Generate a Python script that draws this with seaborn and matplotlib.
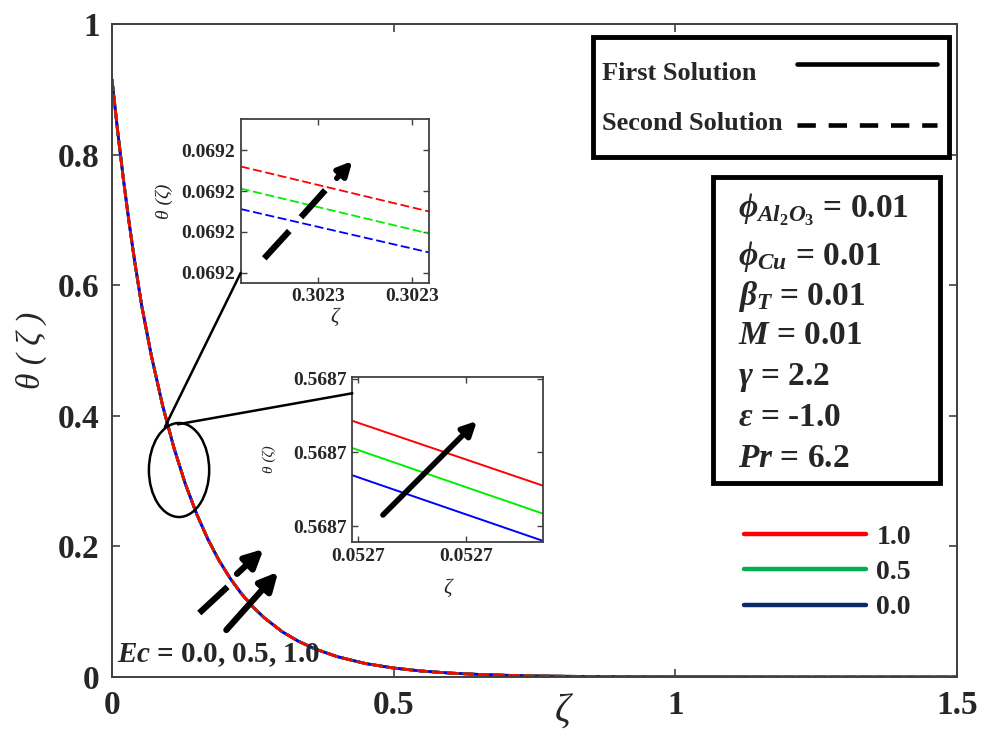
import numpy as np
import pandas as pd
import seaborn as sns
import matplotlib
matplotlib.use("Agg")
import matplotlib.pyplot as plt
from matplotlib.lines import Line2D
from matplotlib.patches import Ellipse, Rectangle, ConnectionPatch

# ---------------- data ----------------
zeta = [0.0, 0.01, 0.02, 0.03, 0.04, 0.0527, 0.07, 0.09, 0.11, 0.13, 0.15,
        0.17, 0.19, 0.21, 0.23, 0.25, 0.27, 0.3023, 0.33, 0.36, 0.40, 0.45,
        0.50, 0.55, 0.60, 0.65, 0.70, 0.75, 0.80, 0.90, 1.00, 1.20, 1.50]
theta = [0.9150, 0.8361, 0.7639, 0.6981, 0.6378, 0.5687, 0.4914, 0.4151,
         0.3507, 0.2962, 0.2502, 0.2113, 0.1785, 0.1508, 0.1273, 0.1076,
         0.0909, 0.0692, 0.0552, 0.0431, 0.0311, 0.0206, 0.0137, 0.0091,
         0.0060, 0.0040, 0.0026, 0.0017, 0.0011, 0.0005, 0.0002, 0.0000,
         0.0000]

ec_values = ["1.0", "0.5", "0.0"]
line_colors = ["#ff0000", "#00ee00", "#0000ff"]
legend_colors = ["#ff0000", "#00b050", "#0b2a6b"]

# zoom near zeta = 0.3023 (second solution)
z1_x = [0.3022959, 0.3023059]
z1_theta = {"1.0": [0.0692080, 0.0692025],
            "0.5": [0.0692053, 0.0691998],
            "0.0": [0.0692028, 0.0691975]}
z1_xticks = [0.302300, 0.302305]
z1_yticks = [0.069195, 0.069200, 0.069205, 0.069210]

# zoom near zeta = 0.0527 (first solution)
z2_x = [0.05269995, 0.05270171]
z2_theta = {"1.0": [0.5686743, 0.5686655],
            "0.5": [0.5686706, 0.5686617],
            "0.0": [0.5686669, 0.5686580]}
z2_xticks = [0.052700, 0.052701]
z2_yticks = [0.568660, 0.568670, 0.568680]

solution_labels = ["First Solution", "Second Solution"]
params = [r"$\phi_{Al_2O_3}$ = 0.01", r"$\phi_{Cu}$ = 0.01", r"$\beta_T$ = 0.01",
          r"$M$ = 0.01", r"$\gamma$ = 2.2", r"$\epsilon$ = -1.0", r"$Pr$ = 6.2"]

# ---------------- style ----------------
sns.set_theme(style="ticks")
plt.rcParams["font.family"] = ["Liberation Serif", "DejaVu Serif"]
plt.rcParams["font.weight"] = "bold"
plt.rcParams["mathtext.fontset"] = "custom"
plt.rcParams["mathtext.it"] = "Liberation Serif:italic:bold"
plt.rcParams["mathtext.rm"] = "Liberation Serif:bold"
plt.rcParams["mathtext.bf"] = "Liberation Serif:bold"
plt.rcParams["mathtext.fallback"] = "stix"

spine_col = "#404040"

fig = plt.figure(figsize=(9.82, 7.36), dpi=100)
W, H = 982.0, 736.0

def px_axes(l, t, r, b):
    return [l / W, 1 - b / H, (r - l) / W, (b - t) / H]

ax = fig.add_axes(px_axes(112, 24, 957, 677))

df = pd.DataFrame({"zeta": zeta, "theta": theta})
# first solution (solid), then second solution (dashed) on top
for ec, c in zip(ec_values, line_colors):
    sns.lineplot(data=df, x="zeta", y="theta", ax=ax, color=c,
                 linestyle="-", lw=2.0, legend=False)
for ec, c in zip(ec_values[::-1], line_colors[::-1]):
    sns.lineplot(data=df, x="zeta", y="theta", ax=ax, color=c,
                 linestyle=(0, (4, 1.5)), lw=2.0, legend=False)

ax.set_xlim(0, 1.5)
ax.set_ylim(0, 1)
ax.set_xticks([0, 0.5, 1, 1.5])
ax.set_xticklabels(["0", "0.5", "1", "1.5"])
ax.set_yticks([0, 0.2, 0.4, 0.6, 0.8, 1])
ax.set_yticklabels(["0", "0.2", "0.4", "0.6", "0.8", "1"])
ax.tick_params(direction="in", length=6, width=1.2, color=spine_col,
               top=True, right=True, labelsize=24, pad=9)
for s in ax.spines.values():
    s.set_color(spine_col)
    s.set_linewidth(1.4)
ax.set_xlabel("ζ", fontsize=28, fontstyle="italic", fontweight="normal")
ax.xaxis.set_label_coords((563 - 112) / 845, -(694 - 677) / 653)
ax.set_ylabel("θ ( ζ )", fontsize=24, fontstyle="italic", fontweight="normal",
              labelpad=8)

# annotations in the main panel
ax.add_patch(Ellipse((0.119, 0.317), 0.107, 0.144, fill=False,
                     ec="black", lw=1.8, zorder=5))
ax.plot([0.155, 0.205], [0.098, 0.138], color="black", lw=4.5,
        solid_capstyle="butt")
ax.annotate("", xy=(0.269, 0.196), xytext=(0.222, 0.158),
            arrowprops=dict(arrowstyle="-|>,head_length=0.9,head_width=0.45",
                            lw=4.5, color="black", shrinkA=0, shrinkB=0))
ax.annotate("", xy=(0.295, 0.161), xytext=(0.203, 0.072),
            arrowprops=dict(arrowstyle="-|>,head_length=0.9,head_width=0.45",
                            lw=4.5, color="black", shrinkA=0, shrinkB=0))
ax.text(0.009, 0.023, r"$Ec$ = 0.0, 0.5, 1.0", fontsize=21,
        fontweight="bold", va="baseline", ha="left")

# ---------------- inset 1 ----------------
ax1 = fig.add_axes(px_axes(240.7, 119, 429, 282.7))
for ec, c in zip(ec_values[::-1], line_colors[::-1]):
    sns.lineplot(x=z1_x, y=z1_theta[ec], ax=ax1, color=c, lw=1.3,
                 linestyle=(0, (5, 2)), legend=False)
ax1.set_xlim(z1_x)
ax1.set_ylim(0.069195 - 0.24 * 5e-6, 0.069195 + 3.76 * 5e-6)
ax1.set_xticks(z1_xticks)
ax1.set_yticks(z1_yticks)
ax1.xaxis.set_major_formatter(matplotlib.ticker.FormatStrFormatter("%.4f"))
ax1.yaxis.set_major_formatter(matplotlib.ticker.FormatStrFormatter("%.4f"))
ax1.set_xlabel("ζ", fontsize=15, fontstyle="italic", fontweight="normal",
               labelpad=2)
ax1.set_ylabel("θ (ζ)", fontsize=14, fontstyle="italic", fontweight="normal",
               labelpad=6)
ax1.plot([0.125, 0.258], [0.149, 0.316], transform=ax1.transAxes,
         color="black", lw=4.5, solid_capstyle="butt")
ax1.plot([0.320, 0.449], [0.400, 0.565], transform=ax1.transAxes,
         color="black", lw=4.5, solid_capstyle="butt")
ax1.annotate("", xy=(0.593, 0.743), xytext=(0.510, 0.638),
             xycoords="axes fraction", textcoords="axes fraction",
             arrowprops=dict(arrowstyle="-|>,head_length=0.7,head_width=0.35",
                             lw=4.0, color="black", shrinkA=0, shrinkB=0))

# ---------------- inset 2 ----------------
ax2 = fig.add_axes(px_axes(352.3, 376.7, 542.7, 542.3))
for ec, c in zip(ec_values[::-1], line_colors[::-1]):
    sns.lineplot(x=z2_x, y=z2_theta[ec], ax=ax2, color=c, lw=1.4,
                 legend=False)
ax2.set_xlim(z2_x)
ax2.set_ylim(0.568660 - 0.2207e-5, 0.568660 + 2.0293e-5)
ax2.set_xticks(z2_xticks)
ax2.set_yticks(z2_yticks)
ax2.xaxis.set_major_formatter(matplotlib.ticker.FormatStrFormatter("%.4f"))
ax2.yaxis.set_major_formatter(matplotlib.ticker.FormatStrFormatter("%.4f"))
ax2.set_xlabel("ζ", fontsize=15, fontstyle="italic", fontweight="normal",
               labelpad=10)
ax2.set_ylabel("θ (ζ)", fontsize=11, fontstyle="italic", fontweight="normal",
               labelpad=12)
ax2.annotate("", xy=(0.655, 0.733), xytext=(0.161, 0.165),
             xycoords="axes fraction", textcoords="axes fraction",
             arrowprops=dict(arrowstyle="-|>,head_length=0.7,head_width=0.35",
                             lw=4.0, color="black", shrinkA=0, shrinkB=0))

for a in (ax1, ax2):
    a.tick_params(direction="in", length=4, width=1.0, color=spine_col,
                  top=True, right=True, labelsize=14, pad=4)
    for s in a.spines.values():
        s.set_color(spine_col)
        s.set_linewidth(1.3)

# connector lines from the ellipse to the insets
fig.add_artist(ConnectionPatch((0.094, 0.383), (0.0, 0.06), coordsA=ax.transData,
                               coordsB=ax1.transAxes, color="black", lw=1.8))
fig.add_artist(ConnectionPatch((0.117, 0.387), (0.0, 0.90), coordsA=ax.transData,
                               coordsB=ax2.transAxes, color="black", lw=1.8))

# ---------------- keys ----------------
# solution-type key: labels left-aligned, line samples right-aligned
fig.add_artist(Rectangle((593 / W, 1 - 157 / H), 356 / W, 120 / H,
                         transform=fig.transFigure, fill=True, fc="white",
                         ec="black", lw=3.5, zorder=4))
key_styles = [dict(), dict(dashes=(4, 2.8))]
for lab, style, ty, ly in zip(solution_labels, key_styles, [73, 124], [64, 125]):
    fig.text(602 / W, 1 - ty / H, lab, fontsize=19, fontweight="bold",
             ha="left", va="center", zorder=5)
    fig.add_artist(Line2D([797 / W, 937 / W], [1 - ly / H, 1 - ly / H],
                          transform=fig.transFigure, color="black", lw=3.3,
                          zorder=5, **style))

ec_handles = [Line2D([], [], color=c, lw=3.2) for c in legend_colors]
leg2 = fig.legend(ec_handles, ec_values, loc="upper left",
                  bbox_to_anchor=(733 / W, 1 - 513 / H), borderaxespad=0,
                  frameon=False, handlelength=4.4, handletextpad=0.36,
                  labelspacing=0.36,
                  prop=dict(family="Liberation Serif", weight="bold", size=20))

# parameter box
fig.add_artist(Rectangle((713 / W, 1 - 483 / H), 227 / W, 306 / H,
                         transform=fig.transFigure, fill=True, fc="white",
                         ec="black", lw=3.5, zorder=4))
ys = [210, 256, 296, 336, 378, 418, 458]
for txt, y in zip(params, ys):
    fig.text(738 / W, 1 - y / H, txt, fontsize=24, fontweight="bold",
             ha="left", va="center", zorder=5)

fig.savefig("out.png", dpi=100)
